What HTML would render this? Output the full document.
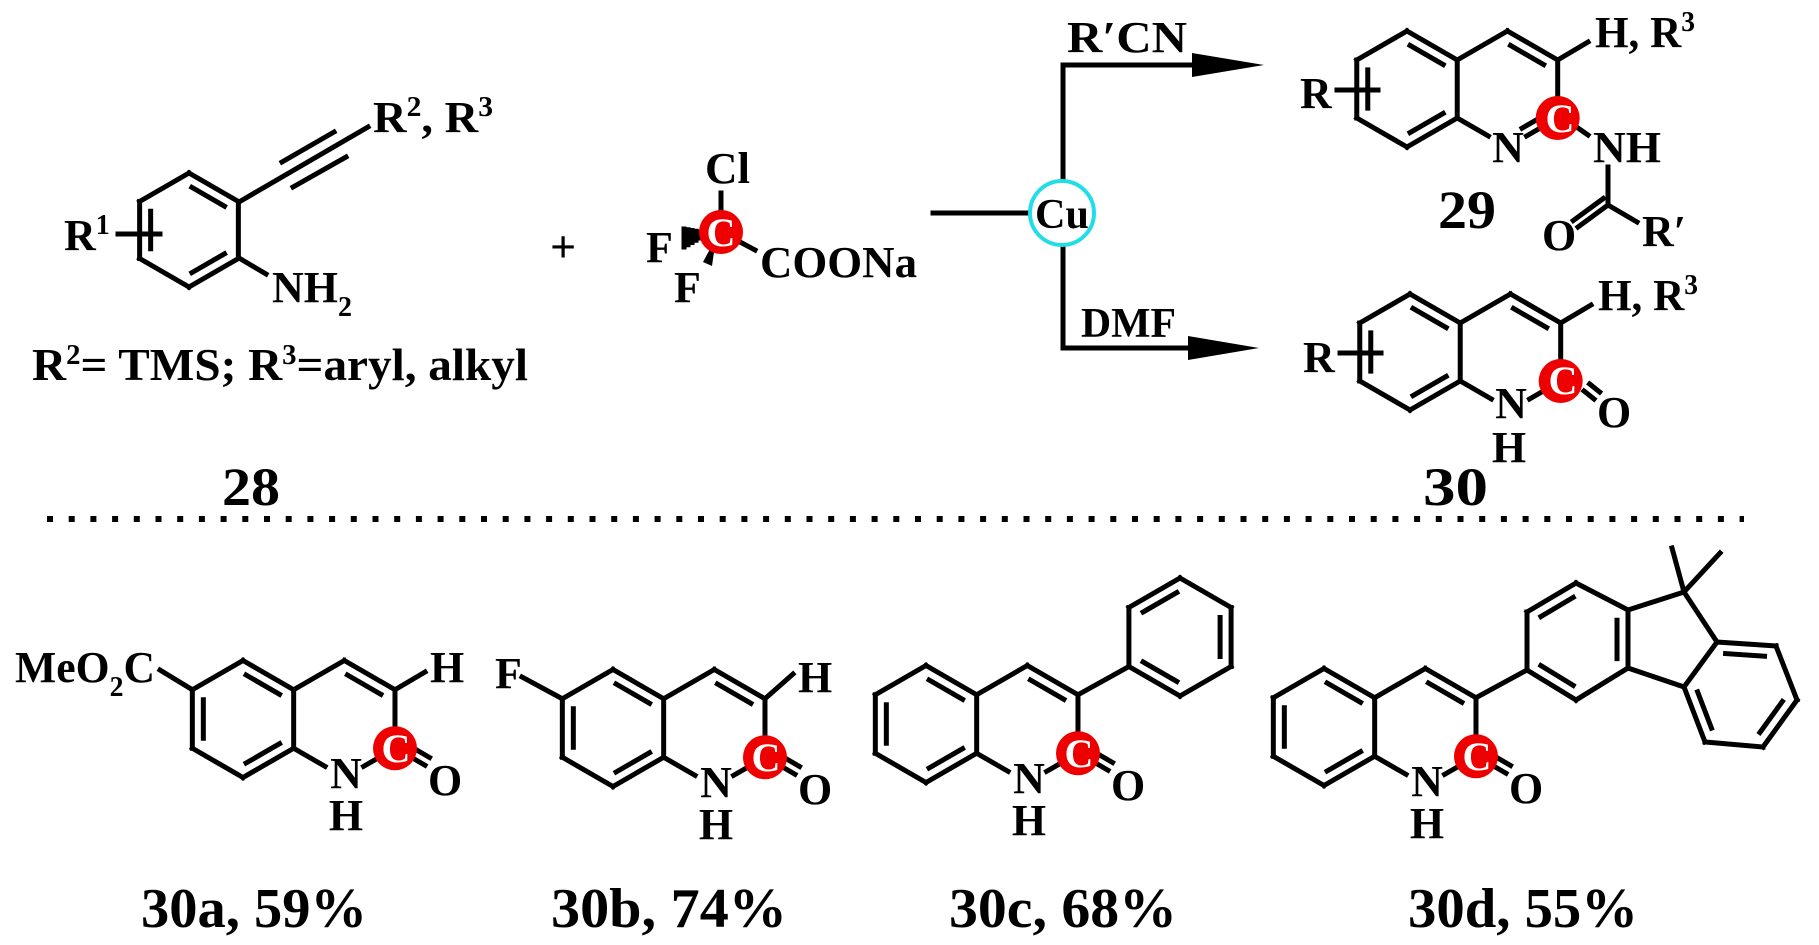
<!DOCTYPE html>
<html><head><meta charset="utf-8"><style>
html,body{margin:0;padding:0;background:#fff;}
svg{display:block;}
text{font-family:"Liberation Serif",serif;font-weight:bold;fill:#000;}
</style></head><body>
<svg id="s" width="1819" height="945" viewBox="0 0 1819 945" xmlns="http://www.w3.org/2000/svg">
<g id="bonds" stroke="#000" stroke-width="5" stroke-linecap="square" fill="none"></g>

<line x1="47" y1="519" x2="1744" y2="519" stroke="#000" stroke-width="6" stroke-dasharray="6 15.7"/>

<text x="64" y="250" font-size="44">R<tspan font-size="28" dy="-16">1</tspan></text>
<text x="373" y="132" font-size="44" textLength="120" lengthAdjust="spacingAndGlyphs">R<tspan font-size="28" dy="-16">2</tspan><tspan dy="16">, R</tspan><tspan font-size="28" dy="-16">3</tspan></text>
<text x="272" y="302" font-size="44">NH<tspan font-size="28" dy="14">2</tspan></text>
<text x="32" y="380" font-size="46" textLength="496" lengthAdjust="spacingAndGlyphs">R<tspan font-size="28" dy="-16">2</tspan><tspan dy="16">= TMS; R</tspan><tspan font-size="28" dy="-16">3</tspan><tspan dy="16">=aryl, alkyl</tspan></text>
<text x="222" y="505" font-size="54" textLength="58" lengthAdjust="spacingAndGlyphs">28</text>
<text x="550" y="262" font-size="46">+</text>

<text x="705" y="183" font-size="44" textLength="45" lengthAdjust="spacingAndGlyphs">Cl</text>
<text x="646" y="262" font-size="44">F</text>
<text x="674" y="302" font-size="44">F</text>
<text x="760" y="277" font-size="44" textLength="157" lengthAdjust="spacingAndGlyphs">COONa</text>
<polygon points="716,238 703,262 712,266" fill="#000"/>

<circle cx="1062" cy="213" r="32" fill="#fff" stroke="#22dde8" stroke-width="4"/>
<text x="1062" y="228" font-size="42" text-anchor="middle" textLength="54" lengthAdjust="spacingAndGlyphs">Cu</text>
<text x="1067" y="52" font-size="44" textLength="120" lengthAdjust="spacingAndGlyphs">R′CN</text>
<text x="1081" y="337" font-size="42" textLength="95" lengthAdjust="spacingAndGlyphs">DMF</text>
<polygon points="1264,65 1192,53 1192,77" fill="#000"/>
<polygon points="1259,348 1188,336 1188,360" fill="#000"/>

<text x="1300" y="108" font-size="44">R</text>
<text x="1595" y="47" font-size="44" textLength="100" lengthAdjust="spacingAndGlyphs">H, R<tspan font-size="28" dy="-16">3</tspan></text>
<text x="1508" y="162" font-size="44" text-anchor="middle">N</text>
<text x="1593" y="162" font-size="44" textLength="68" lengthAdjust="spacingAndGlyphs">NH</text>
<text x="1542" y="250" font-size="44">O</text>
<text x="1642" y="246" font-size="44">R′</text>
<text x="1438" y="228" font-size="54" textLength="58" lengthAdjust="spacingAndGlyphs">29</text>

<text x="1303" y="372" font-size="44">R</text>
<text x="1598" y="310" font-size="44" textLength="100" lengthAdjust="spacingAndGlyphs">H, R<tspan font-size="28" dy="-16">3</tspan></text>
<text x="1511" y="418" font-size="44" text-anchor="middle">N</text>
<text x="1509" y="462" font-size="44" text-anchor="middle">H</text>
<text x="1597" y="427" font-size="44">O</text>
<text x="1423" y="505" font-size="54" textLength="65" lengthAdjust="spacingAndGlyphs">30</text>

<text x="15" y="682" font-size="44" textLength="140" lengthAdjust="spacingAndGlyphs">MeO<tspan font-size="28" dy="14">2</tspan><tspan dy="-14">C</tspan></text>
<text x="430" y="682" font-size="44">H</text>
<text x="346" y="788" font-size="44" text-anchor="middle">N</text>
<text x="346" y="830" font-size="44" text-anchor="middle">H</text>
<text x="428" y="795" font-size="44">O</text>
<text x="141" y="927" font-size="56" textLength="226" lengthAdjust="spacingAndGlyphs">30a, 59%</text>

<text x="495" y="688" font-size="44">F</text>
<text x="798" y="692" font-size="44">H</text>
<text x="716" y="797" font-size="44" text-anchor="middle">N</text>
<text x="716" y="839" font-size="44" text-anchor="middle">H</text>
<text x="798" y="804" font-size="44">O</text>
<text x="551" y="927" font-size="56" textLength="236" lengthAdjust="spacingAndGlyphs">30b, 74%</text>

<text x="1029" y="793" font-size="44" text-anchor="middle">N</text>
<text x="1029" y="835" font-size="44" text-anchor="middle">H</text>
<text x="1111" y="800" font-size="44">O</text>
<text x="949" y="927" font-size="56" textLength="228" lengthAdjust="spacingAndGlyphs">30c, 68%</text>

<text x="1427" y="796" font-size="44" text-anchor="middle">N</text>
<text x="1427" y="838" font-size="44" text-anchor="middle">H</text>
<text x="1509" y="803" font-size="44">O</text>
<text x="1408" y="927" font-size="56" textLength="230" lengthAdjust="spacingAndGlyphs">30d, 55%</text>

<g id="reds"></g>
<g id="redtext">
<text x="721" y="246" font-size="40" text-anchor="middle" style="fill:#fff">C</text>
<text x="1560" y="132" font-size="40" text-anchor="middle" style="fill:#fff">C</text>
<text x="1563" y="394" font-size="40" text-anchor="middle" style="fill:#fff">C</text>
<text x="396" y="762" font-size="40" text-anchor="middle" style="fill:#fff">C</text>
<text x="766" y="771" font-size="40" text-anchor="middle" style="fill:#fff">C</text>
<text x="1079" y="767" font-size="40" text-anchor="middle" style="fill:#fff">C</text>
<text x="1477" y="770" font-size="40" text-anchor="middle" style="fill:#fff">C</text>
</g>
</svg>
<script>
var NS="http://www.w3.org/2000/svg",B=document.getElementById("bonds"),R=document.getElementById("reds");
function L(a,b,c,d){var l=document.createElementNS(NS,"line");l.setAttribute("x1",a);l.setAttribute("y1",b);l.setAttribute("x2",c);l.setAttribute("y2",d);B.appendChild(l);}
function P(p,q){L(p[0],p[1],q[0],q[1]);}
function inner(p,q,c){var mx=(p[0]+q[0])/2,my=(p[1]+q[1])/2,dx=c[0]-mx,dy=c[1]-my,d=Math.hypot(dx,dy),o=11;
 var ox=dx/d*o,oy=dy/d*o,f=0.17;
 var a=[p[0]+(q[0]-p[0])*f+ox,p[1]+(q[1]-p[1])*f+oy],b=[q[0]+(p[0]-q[0])*f+ox,q[1]+(p[1]-q[1])*f+oy];P(a,b);}
function par(p,q,o){var dx=q[0]-p[0],dy=q[1]-p[1],d=Math.hypot(dx,dy),nx=-dy/d*o,ny=dx/d*o;L(p[0]+nx,p[1]+ny,q[0]+nx,q[1]+ny);}
function hexv(X,Y,r){var h=r*Math.cos(Math.PI/6);return [[X,Y-r],[X+h,Y-r/2],[X+h,Y+r/2],[X,Y+r],[X-h,Y+r/2],[X-h,Y-r/2]];}
function ring(v,c,dbl){for(var i=0;i<v.length;i++)P(v[i],v[(i+1)%v.length]);dbl.forEach(function(i){inner(v[i],v[(i+1)%v.length],c);});}
function red(x,y){var c=document.createElementNS(NS,"circle");c.setAttribute("cx",x);c.setAttribute("cy",y);c.setAttribute("r",22);c.setAttribute("fill","#ee0000");R.appendChild(c);}
function seg(p,q,t1,t2){P([p[0]+(q[0]-p[0])*t1,p[1]+(q[1]-p[1])*t1],[p[0]+(q[0]-p[0])*t2,p[1]+(q[1]-p[1])*t2]);}
function quin(X,Y,mode,rr){var r=rr||58.5,v=hexv(X,Y,r),c=[X,Y];ring(v,c,[0,2,4]);
 var h=r*Math.cos(Math.PI/6),top=[X+2*h,Y-r],tr=[X+3*h,Y-r/2],C=[X+3*h,Y+r/2],N=[X+2*h,Y+r],c2=[X+2*h,Y];
 P(v[1],top);P(top,tr);inner(top,tr,c2);P(tr,[C[0],C[1]-18]);
 seg(v[2],N,0,0.62);
 seg(N,C,0.38,0.7);
 if(mode=='imine'){par([N[0]+(C[0]-N[0])*0.38,N[1]+(C[1]-N[1])*0.38],[N[0]+(C[0]-N[0])*0.7,N[1]+(C[1]-N[1])*0.7],-9);}
 red(C[0],C[1]);return {v:v,tr:tr,C:C,N:N};}
var v28=hexv(189,230,57);ring(v28,[189,230],[0,2,4]);
L(239,202,368,127);L(282,162,334,132);L(293,187,346,157);
L(239,258,266,274);L(118,234,160,234);
L(721,193,721,210);L(740,242,755,250);
for(var i=0;i<5;i++){var t=i/4,x=700-t*16,y=235+t*3,hl=3+t*6;L(x,y-hl,x,y+hl);}
red(721,232);
L(933,213,1029,213);L(1063,181,1063,65);L(1063,65,1200,65);L(1063,245,1063,348);L(1063,348,1195,348);
var q29=quin(1407,89,'imine',58);
L(1337,90,1378,90);
L(q29.tr[0],q29.tr[1],1588,42);
L(1578,128,1588,135);
L(1608,167,1608,205);L(1608,205,1637,222);
L(1608,205,1578,227);par([1608,205],[1578,227],8);
var q30=quin(1410,352,'one',58);
L(1340,353,1381,353);
L(q30.tr[0],q30.tr[1],1591,305);
L(1584,391,1594,399);par([1584,391],[1594,399],-9);
function lact(X,Y){var q=quin(X,Y,'one');var C=q.C;L(C[0]+18,C[1]+10,C[0]+30,C[1]+17);par([C[0]+18,C[1]+10],[C[0]+30,C[1]+17],-9);return q;}
var a=lact(243,719);L(a.tr[0],a.tr[1],425,672);L(a.v[5][0],a.v[5][1],160,670);
var b=lact(613,728);L(b.tr[0],b.tr[1],793,674);L(b.v[5][0],b.v[5][1],522,677);
var c=lact(926,724);
var ph=hexv(1180,637,59);ring(ph,[1180,637],[5,1,3]);P(c.tr,ph[4]);
var d=lact(1324,727);
var A=[[1576,583],[1628,610],[1628,668],[1576,700],[1527,670],[1527,612]];ring(A,[1577,641],[5,1,3]);P(d.tr,A[4]);
var C9=[1684,592];P(A[1],C9);
var Bv=[[1717,642],[1776,646],[1797,700],[1763,747],[1705,742],[1684,687]];ring(Bv,[1740,694],[0,2,4]);
P(A[2],Bv[5]);P(C9,Bv[0]);L(1684,592,1672,548);L(1684,592,1720,553);
document.getElementById("s").appendChild(document.getElementById("redtext"));
</script>
</body></html>
